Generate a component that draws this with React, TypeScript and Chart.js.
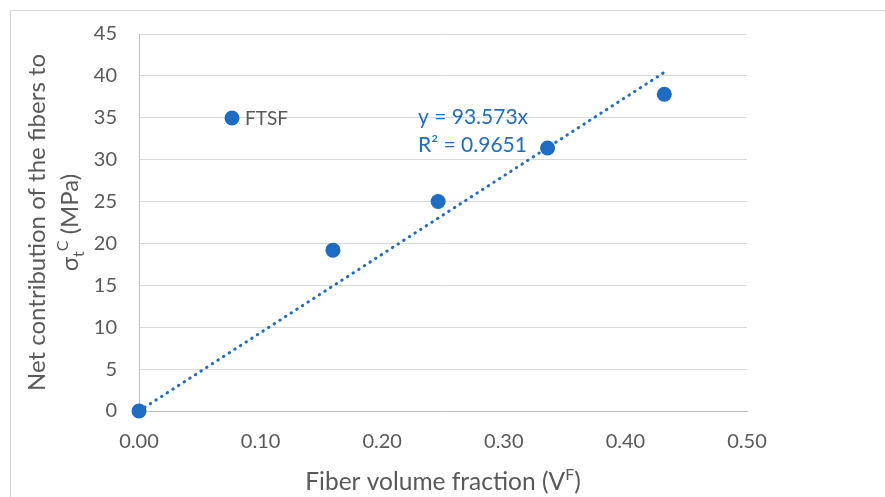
import React, { useEffect, useRef } from "react";
import { Chart, registerables } from "chart.js";

Chart.register(...registerables);

// ---- data ----
const fiberVolumeFraction = [0, 0.1595, 0.246, 0.336, 0.432];
const netContribution = [0, 19.2, 25.0, 31.4, 37.8];
const seriesName = "FTSF";
const trendSlope = 93.573;
const trendR2Label = "0.9651";
const trendXRange = [0, 0.432];
const xTickValues = [0, 0.1, 0.2, 0.3, 0.4, 0.5];
const yTickValues = [0, 5, 10, 15, 20, 25, 30, 35, 40, 45];

const BLUE = "#1F6CC4";
const TEXT = "#595959";
const GRID = "#D9D9D9";
const AXIS = "#BFBFBF";
const FONT = "Lato, 'Liberation Sans', sans-serif";

type Run = { t: string; size: number; dy: number };

function drawRuns(ctx: CanvasRenderingContext2D, runs: Run[], cx: number, cy: number, color: string) {
  let total = 0;
  const widths: number[] = [];
  runs.forEach((r) => {
    ctx.font = `${r.size}px ${FONT}`;
    const w = ctx.measureText(r.t).width;
    widths.push(w);
    total += w;
  });
  let x = cx - total / 2;
  ctx.fillStyle = color;
  ctx.textBaseline = "alphabetic";
  ctx.textAlign = "left";
  runs.forEach((r, i) => {
    ctx.font = `${r.size}px ${FONT}`;
    ctx.fillText(r.t, x, cy + r.dy);
    x += widths[i];
  });
}

const decorPlugin = {
  id: "decor",
  beforeDraw(chart: any) {
    const ctx = chart.ctx as CanvasRenderingContext2D;
    ctx.save();
    ctx.fillStyle = "#FFFFFF";
    ctx.fillRect(0, 0, chart.width, chart.height);
    ctx.strokeStyle = GRID;
    ctx.lineWidth = 1;
    ctx.strokeRect(10.5, 10.5, chart.width + 20, chart.height + 20);
    ctx.restore();
  },
  afterDraw(chart: any) {
    const ctx = chart.ctx as CanvasRenderingContext2D;
    const a = chart.chartArea;
    ctx.save();
    // Y axis title (rotated)
    const cy = (a.top + a.bottom) / 2;
    ctx.save();
    ctx.translate(37, cy);
    ctx.rotate(-Math.PI / 2);
    drawRuns(ctx, [{ t: "Net contribution of the fibers to", size: 24, dy: 0 }], 0, 8, TEXT);
    ctx.restore();
    ctx.save();
    ctx.translate(70, cy);
    ctx.rotate(-Math.PI / 2);
    drawRuns(
      ctx,
      [
        { t: "σ", size: 24, dy: 0 },
        { t: "t", size: 16, dy: 6 },
        { t: "C", size: 16, dy: -10 },
        { t: " (MPa)", size: 24, dy: 0 },
      ],
      0,
      8,
      TEXT
    );
    ctx.restore();
    // X axis title
    drawRuns(
      ctx,
      [
        { t: "Fiber volume fraction (V", size: 24.5, dy: 0 },
        { t: "F", size: 16, dy: -10 },
        { t: ")", size: 24.5, dy: 0 },
      ],
      (a.left + a.right) / 2,
      490,
      TEXT
    );
    // Legend inside plot
    const lx = a.left + 93;
    const ly = a.top + 84;
    ctx.fillStyle = BLUE;
    ctx.beginPath();
    ctx.arc(lx, ly, 7.5, 0, Math.PI * 2);
    ctx.fill();
    ctx.font = `19px ${FONT}`;
    ctx.fillStyle = TEXT;
    ctx.textAlign = "left";
    ctx.textBaseline = "middle";
    ctx.fillText(seriesName, lx + 13, ly + 1);
    // Trendline label
    ctx.fillStyle = BLUE;
    ctx.font = `21px ${FONT}`;
    ctx.textBaseline = "middle";
    ctx.fillText(`y = ${trendSlope}x`, a.left + 279, a.top + 83);
    ctx.fillText(`R² = ${trendR2Label}`, a.left + 279, a.top + 111);
    ctx.restore();
  },
};

export default function App() {
  const ref = useRef<HTMLCanvasElement>(null);
  useEffect(() => {
    if (!ref.current) return;
    const points = fiberVolumeFraction.map((x, i) => ({ x, y: netContribution[i] }));
    const trend = trendXRange.map((x) => ({ x, y: trendSlope * x }));
    const chart = new Chart(ref.current, {
      type: "scatter",
      data: {
        datasets: [
          {
            label: seriesName,
            data: points,
            backgroundColor: BLUE,
            borderColor: BLUE,
            borderWidth: 0,
            pointRadius: 7.5,
            clip: false,
            order: 0,
          },
          {
            label: "Linear (FTSF)",
            data: trend,
            showLine: true,
            borderColor: BLUE,
            borderWidth: 3,
            borderDash: [0.5, 6.2],
            borderCapStyle: "round",
            pointRadius: 0,
            clip: false,
            order: 1,
          } as any,
        ],
      },
      options: {
        responsive: false,
        animation: false,
        layout: { padding: { left: 0, top: 33, right: 138, bottom: 0 } },
        plugins: { legend: { display: false }, tooltip: { enabled: false } },
        scales: {
          x: {
            type: "linear",
            min: 0,
            max: 0.5,
            afterFit: (s: any) => {
              s.height = 86;
            },
            afterBuildTicks: (s: any) => {
              s.ticks = xTickValues.map((v) => ({ value: v }));
            },
            ticks: {
              padding: 19,
              color: TEXT,
              font: { family: FONT, size: 20 },
              callback: (v: any) => Number(v).toFixed(2),
            },
            grid: { display: false, drawTicks: false },
            border: { display: true, color: AXIS, width: 1 },
          },
          y: {
            type: "linear",
            min: 0,
            max: 45,
            afterFit: (s: any) => {
              s.width = 139;
            },
            afterBuildTicks: (s: any) => {
              s.ticks = yTickValues.map((v) => ({ value: v }));
            },
            ticks: {
              padding: 22,
              color: TEXT,
              font: { family: FONT, size: 20 },
            },
            grid: { color: GRID, drawTicks: false },
            border: { display: true, color: AXIS, width: 1 },
          },
        },
      },
      plugins: [decorPlugin],
    } as any);
    return () => chart.destroy();
  }, []);
  return (
    <div style={{ position: "fixed", left: 0, top: 0, width: 885, height: 497 }}>
      <canvas ref={ref} width={885} height={497} style={{ width: 885, height: 497, display: "block" }} />
    </div>
  );
}
